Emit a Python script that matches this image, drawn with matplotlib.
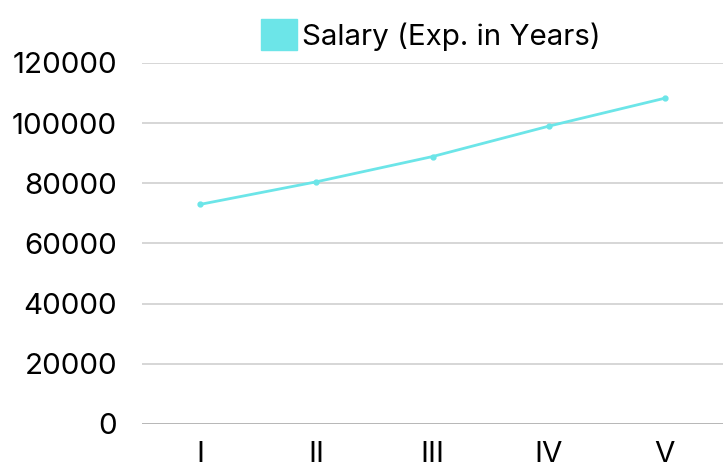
import matplotlib
matplotlib.use("Agg")
import matplotlib.pyplot as plt
from matplotlib.patches import Patch

# data
levels = ["I", "II", "III", "IV", "V"]
salary = [73000, 80500, 88900, 99000, 108300]
y_ticks = [0, 20000, 40000, 60000, 80000, 100000, 120000]

line_color = "#6ce5e8"
plt.rcParams['font.family'] = ['Inter', 'DejaVu Sans']

fig = plt.figure(figsize=(7.23, 4.63), dpi=100)
ax = fig.add_axes([142 / 723, 1 - 424 / 463, 1 - 142 / 723, (424 - 63) / 463])

x = list(range(len(levels)))
ax.plot(x, salary, color=line_color, linewidth=2, marker="o", markersize=3.5, zorder=3)

ax.set_xlim(-0.5, len(levels) - 0.5)
ax.set_ylim(0, 120000)
ax.set_yticks(y_ticks)
ax.set_yticklabels([str(v) for v in y_ticks])
ax.set_xticks(x)
ax.set_xticklabels(levels)

# horizontal grid only, zero line a bit darker
for v in y_ticks:
    ax.axhline(v, color="#aaaaaa" if v == 0 else "#d0d0d0", linewidth=1.2, zorder=1)

for s in ax.spines.values():
    s.set_visible(False)
ax.tick_params(axis="both", length=0, labelsize=21.3, colors="black")
ax.tick_params(axis="y", pad=18)
ax.tick_params(axis="x", pad=12)

handle = Patch(facecolor=line_color, edgecolor=line_color)
fig.legend([handle], ["Salary (Exp. in Years)"], loc="center", bbox_to_anchor=(431 / 723, 1 - 35 / 463),
           frameon=False, fontsize=21.3, handlelength=1.22, handleheight=1.22, handletextpad=0.17,
           borderpad=0)

fig.savefig("out.png", dpi=100)
